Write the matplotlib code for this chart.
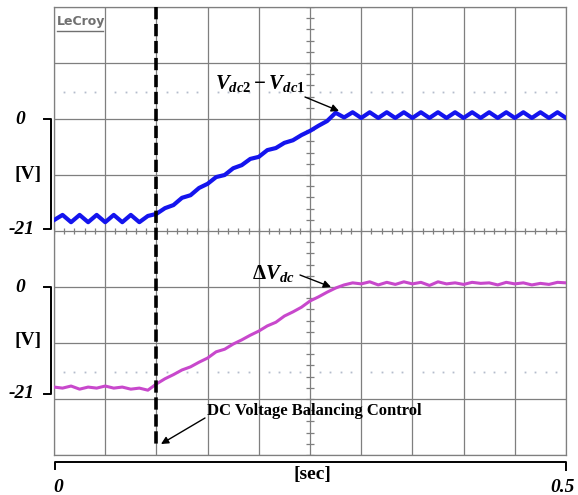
import numpy as np
import matplotlib
matplotlib.use("Agg")
import matplotlib.pyplot as plt

# ─────────────────────────────────────────────
# Scope traces (volts, 0.5 s window)
# ─────────────────────────────────────────────

T_END   = 0.5        # [s] full screen width
T_CTRL  = 0.1        # [s] balancing control enabled
V_DIV   = 10.8       # [V] per vertical division
TOP_ZERO = 2.0       # division where top trace 0 V sits
BOT_ZERO = -1.0      # division where bottom trace 0 V sits

# Vdc2 - Vdc1 (blue)
vdc_diff = [-19.5, -18.5, -19.9, -18.5, -19.9, -18.5, -19.9, -18.5, -19.9, -18.5,
            -19.9, -18.7, -18.3, -17.2, -16.6, -15.2, -14.7, -13.3, -12.5, -11.2,
            -10.8, -9.5, -8.9, -7.7, -7.3, -6.0, -5.6, -4.6, -4.1, -3.1,
            -2.3, -1.3, -0.4, 1.2, 0.3, 1.3, 0.2, 1.3, 0.2, 1.3,
            0.2, 1.3, 0.2, 1.3, 0.2, 1.3, 0.2, 1.3, 0.2, 1.3,
            0.2, 1.3, 0.2, 1.3, 0.2, 1.3, 0.2, 1.3, 0.2, 1.3,
            0.2]

# Delta Vdc (magenta)
delta_vdc = [-19.3, -19.5, -19.1, -19.7, -19.3, -19.5, -19.1, -19.5, -19.3, -19.7,
             -19.5, -19.9, -18.7, -17.7, -16.9, -16.0, -15.4, -14.5, -13.7, -12.5,
             -12.0, -11.0, -10.2, -9.3, -8.5, -7.5, -6.8, -5.6, -4.8, -3.9,
             -2.7, -1.9, -1.0, -0.2, 0.4, 0.8, 0.6, 1.0, 0.4, 0.9,
             0.5, 1.0, 0.6, 0.9, 0.3, 1.0, 0.6, 0.8, 0.5, 0.9,
             0.7, 0.8, 0.4, 0.9, 0.6, 0.8, 0.4, 0.7, 0.5, 0.9,
             0.8]

t = np.linspace(0.0, T_END, len(vdc_diff))

plt.rcParams["mathtext.fontset"] = "custom"
plt.rcParams["mathtext.it"] = "Liberation Serif:italic:bold"
plt.rcParams["mathtext.rm"] = "Liberation Serif:bold"
plt.rcParams["mathtext.bf"] = "Liberation Serif:bold"

SERIF = "Liberation Serif"
GRID  = "#7f7f7f"

W, H = 578, 495
L, R, TOP, BOT = 54, 566, 7, 455

fig = plt.figure(figsize=(W / 100, H / 100), dpi=100)
ax = fig.add_axes([L / W, 1 - BOT / H, (R - L) / W, (BOT - TOP) / H])
ax.set_xlim(0, T_END)
ax.set_ylim(-4, 4)
ax.set_xticks(np.arange(0, T_END + 1e-9, 0.05))
ax.set_yticks(np.arange(-4, 5, 1))
ax.tick_params(length=0, labelbottom=False, labelleft=False)
ax.grid(True, color=GRID, lw=0.9)
for sp in ax.spines.values():
    sp.set_color(GRID)
    sp.set_linewidth(0.9)

# minor ticks on the centre cross
minor_x = np.arange(0, T_END + 1e-9, 0.01)
ax.vlines(minor_x, -0.06, 0.06, color=GRID, lw=0.9)
minor_y = np.arange(-4, 4.01, 0.2)
ax.hlines(minor_y, 0.25 - 0.004, 0.25 + 0.004, color=GRID, lw=0.9)

# dotted reference levels
dots_x = np.array([x for x in np.arange(0.01, T_END, 0.01)
                   if abs(x / 0.05 - round(x / 0.05)) > 1e-6])
for lvl in (2.48, -2.52):
    ax.plot(dots_x, np.full_like(dots_x, lvl), ls="none", marker="s",
            ms=1.3, color="#b4bccb", mew=0)

# traces
ax.plot(t, TOP_ZERO + np.array(vdc_diff) / V_DIV, color="#1414ee", lw=3.0,
        solid_joinstyle="round", zorder=3)
ax.plot(t, BOT_ZERO + np.array(delta_vdc) / V_DIV, color="#c848cc", lw=2.2,
        solid_joinstyle="round", zorder=3)

# balancing-control instant
ax.plot([T_CTRL, T_CTRL], [4, -3.86], color="black", lw=2.6,
        ls=(0, (3.4, 1.3)), zorder=4, clip_on=False)

# ─────────────────────────────────────────────
# Annotation layer in pixel coordinates
# ─────────────────────────────────────────────
ann = fig.add_axes([0, 0, 1, 1], zorder=5)
ann.set_xlim(0, W)
ann.set_ylim(H, 0)
ann.axis("off")

ann.text(57, 21, "LeCroy", fontsize=9, color="#707070", fontweight="bold",
         ha="left", va="center", family="DejaVu Sans")
ann.plot([57, 103], [31, 31], color="#707070", lw=1)

lab = dict(family=SERIF, fontweight="bold", fontsize=14, ha="center", va="center")
for y0, y1 in ((119, 229), (287, 394)):
    ann.plot([44, 51, 51, 44], [y0, y0, y1, y1], color="black", lw=1.4)
    ann.text(20, y0, "0", style="italic", **lab)
    ann.text(22, y1, "-21", style="italic", **lab)
    ann.text(28, (y0 + y1) / 2, "[V]", **lab)

ann.plot([55, 55, 566, 566], [469, 462, 462, 470], color="black", lw=1.4)
ann.text(58, 487, "0", style="italic", **lab)
ann.text(563, 487, "0.5", style="italic", **lab)
ann.text(312, 474, "[sec]", **lab)

arrow = dict(arrowstyle="-|>", color="black", lw=1.0, mutation_scale=11,
             shrinkA=0, shrinkB=0)
ann.text(260, 84, r"$\mathit{V_{dc2}}-\mathit{V_{dc1}}$", fontsize=15,
         ha="center", va="center")
ann.annotate("", xy=(339, 111), xytext=(305, 97), arrowprops=arrow)

ann.text(273, 273, r"$\mathit{\Delta V_{dc}}$", fontsize=15,
         ha="center", va="center")
ann.annotate("", xy=(331, 287), xytext=(300, 275), arrowprops=arrow)

ann.text(207, 411, "DC Voltage Balancing Control", family=SERIF,
         fontweight="bold", fontsize=12, ha="left", va="center")
ann.annotate("", xy=(161, 444), xytext=(205, 418), arrowprops=arrow)

fig.savefig("out.png", dpi=100)
